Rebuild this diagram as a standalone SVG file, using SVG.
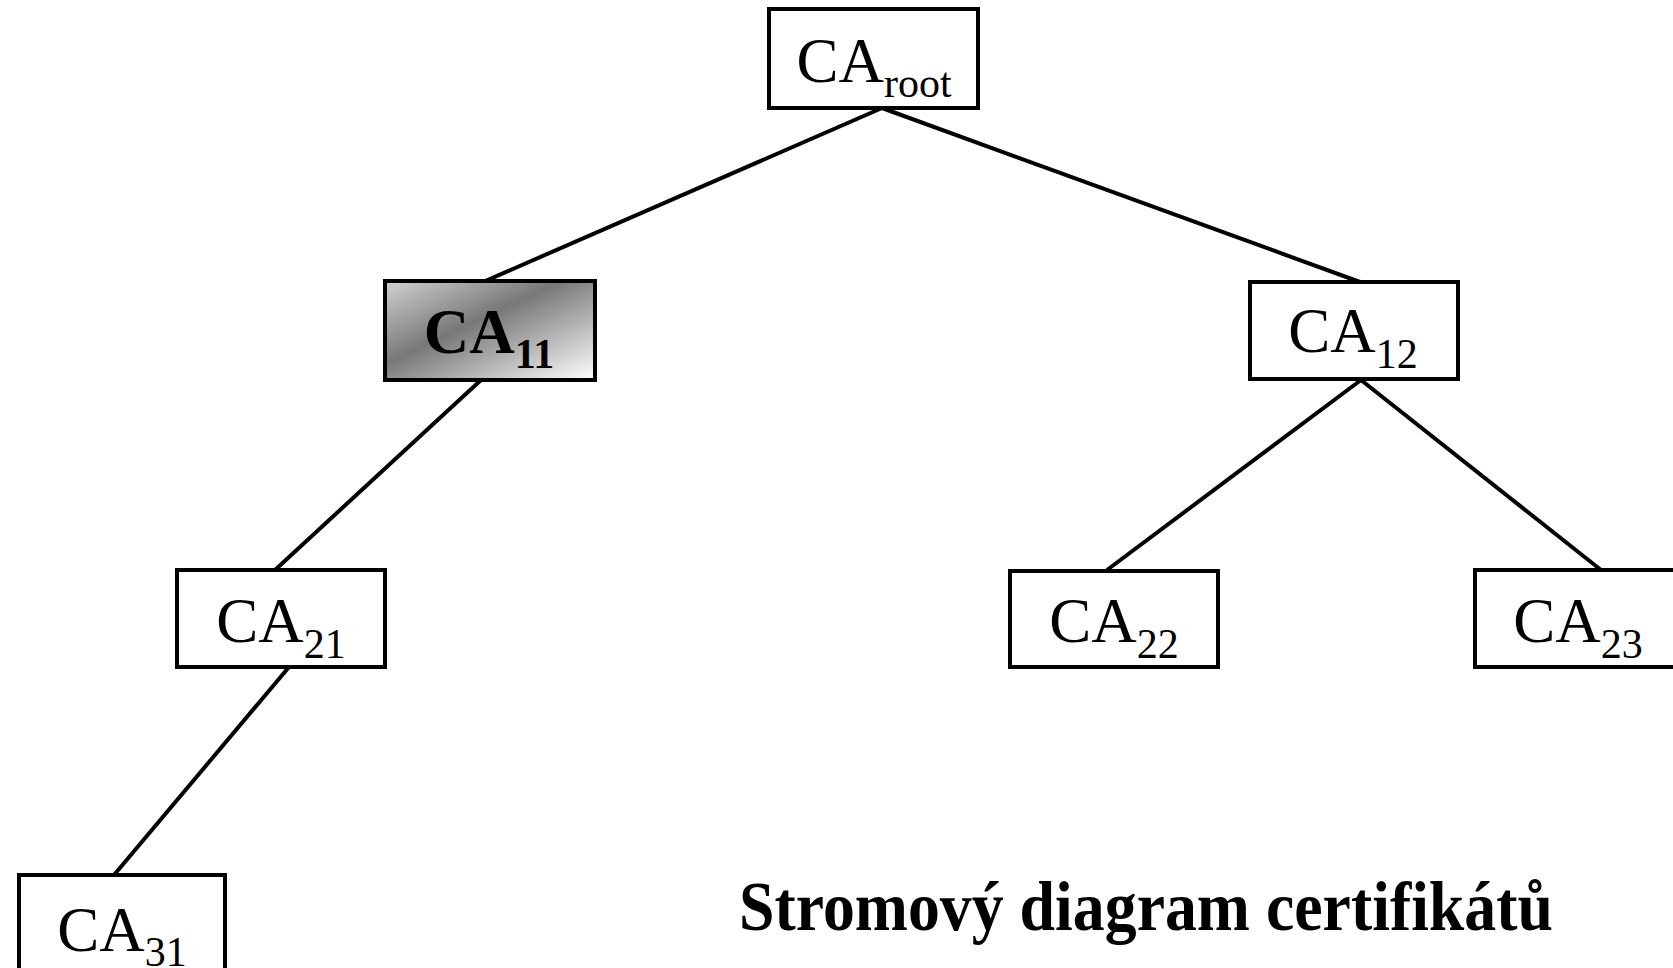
<svg xmlns="http://www.w3.org/2000/svg" width="1673" height="968" viewBox="0 0 1673 968">
  <style>
    .box { fill: #ffffff; stroke: #000000; stroke-width: 4; }
    .edge { stroke: #000000; stroke-width: 4; stroke-linecap: butt; fill: none; }
    .lbl { font-family: "Liberation Serif", "Times New Roman", serif; font-size: 63px; fill: #000000; text-anchor: middle; }
    .sub { font-size: 42px; }
    .bold { font-weight: bold; }
    .title { font-family: "Liberation Serif", "Times New Roman", serif; font-size: 70px; font-weight: bold; fill: #000000; }
  </style>
  <defs>
    <linearGradient id="shade" x1="0" y1="0" x2="1" y2="1">
      <stop offset="0" stop-color="#d2d2d2"/>
      <stop offset="0.42" stop-color="#787878"/>
      <stop offset="1" stop-color="#ffffff"/>
    </linearGradient>
  </defs>

  <g id="connectors">
    <line class="edge" x1="882" y1="108" x2="483" y2="282"/>
    <line class="edge" x1="882" y1="108" x2="1360" y2="282"/>
    <line class="edge" x1="481" y1="380" x2="275" y2="570"/>
    <line class="edge" x1="1361" y1="380" x2="1107" y2="570"/>
    <line class="edge" x1="1361" y1="380" x2="1601" y2="570"/>
    <line class="edge" x1="289" y1="667" x2="114" y2="875"/>
  </g>

  <g id="ca-root">
    <rect class="box" x="769" y="9" width="209" height="99"/>
    <text class="lbl" x="874" y="82">CA<tspan class="sub" dy="15">root</tspan></text>
  </g>

  <g id="ca-11">
    <rect class="box" x="385" y="281" width="210" height="99" style="fill:url(#shade)"/>
    <text class="lbl bold" x="489" y="353">CA<tspan class="sub" dy="15">11</tspan></text>
  </g>

  <g id="ca-12">
    <rect class="box" x="1250" y="282" width="208" height="97"/>
    <text class="lbl" x="1353" y="352">CA<tspan class="sub" dy="16">12</tspan></text>
  </g>

  <g id="ca-21">
    <rect class="box" x="177" y="570" width="208" height="97"/>
    <text class="lbl" x="281" y="642">CA<tspan class="sub" dy="16">21</tspan></text>
  </g>

  <g id="ca-22">
    <rect class="box" x="1010" y="571" width="208" height="96"/>
    <text class="lbl" x="1114" y="642">CA<tspan class="sub" dy="16">22</tspan></text>
  </g>

  <g id="ca-23">
    <rect class="box" x="1475" y="570" width="209" height="97"/>
    <text class="lbl" x="1578" y="642">CA<tspan class="sub" dy="16">23</tspan></text>
  </g>

  <g id="ca-31">
    <rect class="box" x="19" y="875" width="206" height="99"/>
    <text class="lbl" x="122" y="951">CA<tspan class="sub" dy="15">31</tspan></text>
  </g>

  <text class="title" x="739" y="930" textLength="814" lengthAdjust="spacingAndGlyphs">Stromový diagram certifikátů</text>
</svg>
